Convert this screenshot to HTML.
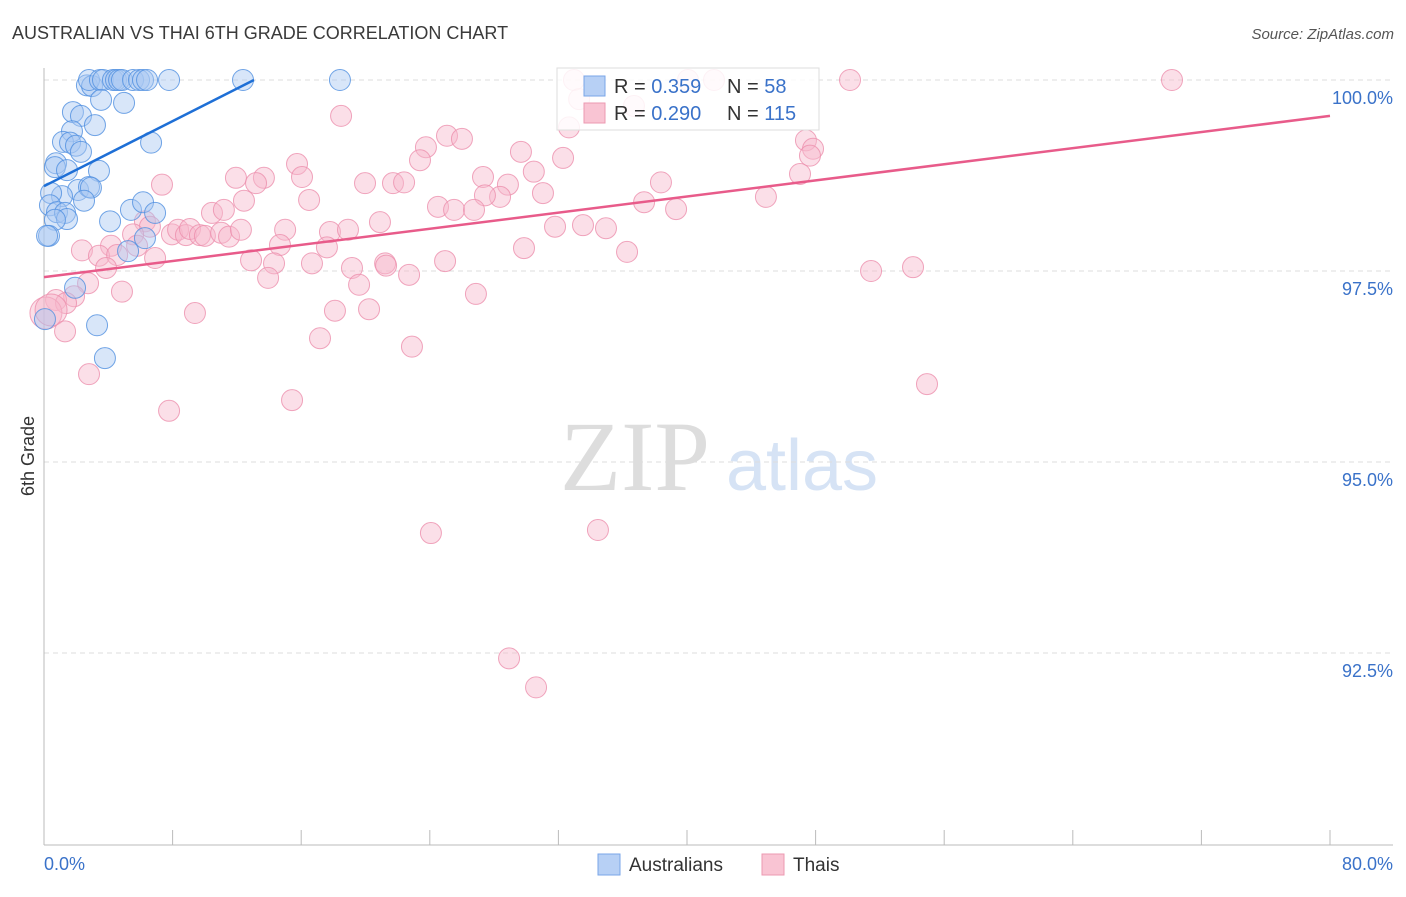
<!DOCTYPE html>
<html><head><meta charset="utf-8"><style>
body{margin:0;background:#fff;font-family:"Liberation Sans",sans-serif;}
svg text{font-family:"Liberation Sans",sans-serif;}
svg text.serif{font-family:"Liberation Serif",serif;}
</style></head><body>
<svg id="chart" width="1406" height="892" xmlns="http://www.w3.org/2000/svg">
<text x="12" y="39" font-size="18" fill="#3a3a3a">AUSTRALIAN VS THAI 6TH GRADE CORRELATION CHART</text>
<text x="1394" y="39" font-size="15" fill="#555" font-style="italic" text-anchor="end">Source: ZipAtlas.com</text>
<text class="serif" x="635" y="490" font-size="100" fill="#ddd" text-anchor="middle">ZIP</text>
<text x="802" y="490" font-size="72" fill="#d6e3f5" text-anchor="middle">atlas</text>
<g id="grid"></g>
<g id="axes"></g>
<g id="pts"></g>
<g id="trend"></g>
<text transform="translate(34,456) rotate(-90)" font-size="18" fill="#333" text-anchor="middle">6th Grade</text>
<g>
<rect x="557" y="68" width="262" height="62" fill="#fff" fill-opacity="0.85" stroke="#ddd"/>
<rect x="584" y="76" width="21" height="20" fill="#b7d0f5" stroke="#7aa6e8"/>
<rect x="584" y="103" width="21" height="20" fill="#f9c4d3" stroke="#ec9ab2"/>
<text x="614" y="93" font-size="20" fill="#333">R = <tspan fill="#3a72c9">0.359</tspan></text>
<text x="727" y="93" font-size="20" fill="#333">N = <tspan fill="#3a72c9"> 58</tspan></text>
<text x="614" y="120" font-size="20" fill="#333">R = <tspan fill="#3a72c9">0.290</tspan></text>
<text x="727" y="120" font-size="20" fill="#333">N = <tspan fill="#3a72c9">115</tspan></text>
</g>
<g>
<rect x="598" y="854" width="22" height="21" fill="#b7d0f5" stroke="#7aa6e8"/>
<text x="629" y="871" font-size="19" fill="#333">Australians</text>
<rect x="762" y="854" width="22" height="21" fill="#f9c4d3" stroke="#ec9ab2"/>
<text x="793" y="871" font-size="19" fill="#333">Thais</text>
</g>
</svg>
<script>
const yTicks=[100,97.5,95,92.5];
const yTickLabels=["100.0%","97.5%","95.0%","92.5%"];
const xTickLabels=["0.0%","80.0%"];
const ausX=[2.67,2.99,2.8,3.48,3.67,4.29,4.48,4.67,4.85,5.54,5.91,6.16,6.41,7.78,12.38,18.41,3.55,4.98,1.8,2.3,3.17,1.74,1.18,1.62,1.99,2.3,6.66,0.75,0.68,1.43,3.42,2.12,2.8,2.92,1.12,0.44,2.49,0.37,0.81,1.31,1.43,0.68,4.11,5.41,6.16,6.91,6.28,5.23,0.31,0.19,1.93,3.3,3.79,0.06];
const ausY=[99.93,99.92,100,100,100,100,100,100,100,100,100,100,100,100,100,100,99.74,99.7,99.58,99.53,99.41,99.33,99.19,99.18,99.14,99.06,99.18,98.91,98.86,98.82,98.81,98.56,98.6,98.59,98.48,98.52,98.42,98.36,98.27,98.26,98.18,98.17,98.15,98.3,98.4,98.26,97.93,97.76,97.96,97.96,97.28,96.79,96.36,96.87];
const thaiX=[32.97,40.06,41.68,50.14,70.17,36.7,33.29,32.66,18.48,25.07,26,23.76,23.39,29.67,32.29,30.47,27.31,15.74,16.05,11.94,13.68,13.19,7.34,19.97,21.71,22.4,28.86,28.37,31.04,27.43,24.51,25.51,26.75,38.38,37.33,39.32,44.91,47.03,47.4,47.84,47.65,12.44,10.45,11.19,16.49,6.28,6.59,7.96,8.34,8.83,9.08,9.7,10.01,11.02,11.51,12.25,15,17.79,18.91,20.9,31.79,33.53,34.96,29.86,36.27,14.68,17.6,5.54,5.79,4.17,2.36,3.42,4.55,6.91,3.86,12.88,14.31,16.67,19.16,21.22,21.28,24.95,13.94,22.71,19.6,4.85,2.74,1.87,0.75,1.37,26.87,51.45,54.06,9.39,18.1,20.22,0.12,0.44,1.31,17.17,22.89,2.8,15.43,7.78,54.93,24.07,34.46,28.93,30.61];
const thaiY=[100,100,100,100,100,99.66,99.75,99.38,99.53,99.27,99.23,99.12,98.95,99.06,98.98,98.8,98.73,98.9,98.73,98.72,98.72,98.65,98.63,98.65,98.65,98.66,98.63,98.47,98.52,98.49,98.34,98.3,98.3,98.66,98.4,98.31,98.47,98.77,99.21,99.1,99.01,98.42,98.26,98.3,98.43,98.15,98.08,97.98,98.04,97.97,98.05,97.97,97.96,98,97.95,98.04,98.04,98.01,98.04,98.14,98.08,98.1,98.06,97.8,97.75,97.84,97.81,97.98,97.83,97.83,97.77,97.7,97.71,97.67,97.54,97.64,97.6,97.6,97.54,97.6,97.57,97.63,97.41,97.45,97.32,97.23,97.34,97.17,97.12,97.08,97.2,97.5,97.55,96.95,96.98,97,96.95,96.99,96.71,96.62,96.51,96.15,95.81,95.67,96.02,94.07,94.11,92.43,92.05];
const ausTrendX=[0,13.06], ausTrendY=[98.61,100];
const thaiTrendX=[0,80], thaiTrendY=[97.42,99.53];
const X=v=>44+v*16.075, Y=v=>80+(100-v)*76.4;
const NS="http://www.w3.org/2000/svg";
function mk(tag,attrs,parent){const e=document.createElementNS(NS,tag);for(const k in attrs)e.setAttribute(k,attrs[k]);document.getElementById(parent).appendChild(e);return e;}
yTicks.forEach((t,i)=>{
 const l=mk('line',{x1:44,x2:1393,y1:Y(t),y2:Y(t),stroke:'#ddd','stroke-dasharray':'5,4'},'grid');
 
 
 const tx=mk('text',{x:1393,y:Y(t)+24,'font-size':18,fill:'#3a72c9','text-anchor':'end'},'grid');
 tx.textContent=yTickLabels[i];
 
 
});
const ax=mk('line',{x1:44,x2:1393,y1:845,y2:845,stroke:'#bbb'},'axes');


const ay=mk('line',{x1:44,x2:44,y1:68,y2:845,stroke:'#bbb'},'axes');


for(let i=0;i<=10;i++){
 const t=mk('line',{x1:X(i*8),x2:X(i*8),y1:830,y2:845,stroke:'#bbb'},'axes');
 
 
}
const xl0=mk('text',{x:44,y:870,'font-size':18,fill:'#3a72c9'},'axes');xl0.textContent=xTickLabels[0];


const xl1=mk('text',{x:1393,y:870,'font-size':18,fill:'#3a72c9','text-anchor':'end'},'axes');xl1.textContent=xTickLabels[1];


thaiX.forEach((v,i)=>{
 const c=mk('circle',{cx:X(v),cy:Y(thaiY[i]),r:(v<0.5&&thaiY[i]<97.1)?16:10.5,fill:'#f7b8cb','fill-opacity':0.45,stroke:'#ec8fac','stroke-opacity':0.8,'stroke-width':1},'pts');
 
 
});
ausX.forEach((v,i)=>{
 const c=mk('circle',{cx:X(v),cy:Y(ausY[i]),r:10.5,fill:'#a9c8f2','fill-opacity':0.45,stroke:'#4f8ee0','stroke-opacity':0.8,'stroke-width':1},'pts');
 
 
});
const t1=mk('line',{x1:X(ausTrendX[0]),y1:Y(ausTrendY[0]),x2:X(ausTrendX[1]),y2:Y(ausTrendY[1]),stroke:'#1e6fd6','stroke-width':2.5},'trend');


const t2=mk('line',{x1:X(thaiTrendX[0]),y1:Y(thaiTrendY[0]),x2:X(thaiTrendX[1]),y2:Y(thaiTrendY[1]),stroke:'#e85b8a','stroke-width':2.5},'trend');


</script>
</body></html>
